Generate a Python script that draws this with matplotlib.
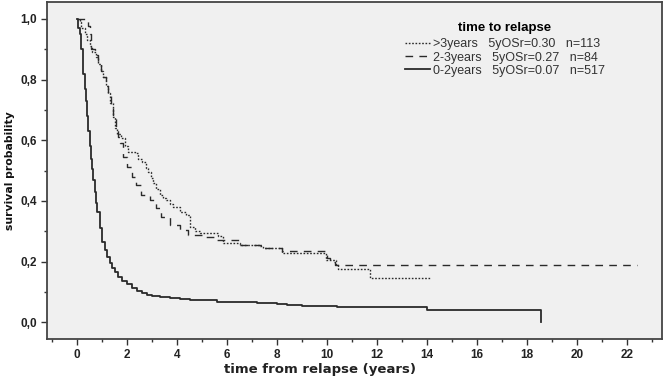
import matplotlib
matplotlib.use("Agg")
import matplotlib.pyplot as plt
from matplotlib.ticker import MultipleLocator

# ---- data ----
t_early = [0, 0.05, 0.1, 0.17, 0.24, 0.3, 0.35, 0.4, 0.45, 0.5, 0.55, 0.6, 0.65, 0.7, 0.75,
           0.8, 0.9, 1.0, 1.1, 1.2, 1.3, 1.4, 1.5, 1.65, 1.8, 2.0, 2.2, 2.4, 2.6, 2.8, 3.0,
           3.3, 3.7, 4.1, 4.5, 4.9, 5.6, 7.2, 8.0, 8.4, 9.0, 10.4, 14.0, 18.55]
s_early = [1.0, 0.97, 0.95, 0.9, 0.82, 0.77, 0.73, 0.68, 0.63, 0.58, 0.54, 0.505, 0.47, 0.43, 0.395,
           0.365, 0.31, 0.265, 0.24, 0.215, 0.197, 0.18, 0.166, 0.15, 0.137, 0.125, 0.113, 0.104, 0.097, 0.09, 0.086,
           0.082, 0.079, 0.077, 0.075, 0.0735, 0.068, 0.064, 0.060, 0.057, 0.054, 0.049, 0.041, 0.0]

t_mid = [0, 0.45, 0.5, 0.57, 0.7, 0.85, 0.95, 1.05, 1.15, 1.25, 1.35, 1.45, 1.55, 1.65, 1.71,
         1.84, 1.98, 2.18, 2.37, 2.57, 2.91, 3.17, 3.37, 3.71, 4.1, 4.44, 5.04, 5.6, 6.5, 7.4,
         8.2, 10.0, 10.1, 10.3, 22.4]
s_mid = [1.0, 0.976, 0.95, 0.90, 0.88, 0.85, 0.83, 0.81, 0.78, 0.75, 0.72, 0.68, 0.64, 0.61, 0.59,
         0.546, 0.513, 0.48, 0.453, 0.42, 0.403, 0.376, 0.346, 0.321, 0.304, 0.288, 0.282, 0.27, 0.255, 0.245,
         0.236, 0.211, 0.2, 0.189, 0.189]

t_late = [0, 0.1, 0.17, 0.3, 0.4, 0.5, 0.6, 0.75, 0.85, 0.95, 1.05, 1.15, 1.24, 1.32, 1.44,
          1.52, 1.6, 1.77, 1.9, 2.04, 2.3, 2.44, 2.6, 2.75, 2.84, 2.95, 3.04, 3.15, 3.31, 3.45,
          3.57, 3.7, 3.84, 4.1, 4.37, 4.5, 4.7, 4.9, 5.64, 5.84, 6.5, 7.3, 7.44, 8.2, 9.97,
          10.35, 10.45, 11.7, 14.1]
s_late = [1.0, 0.99, 0.97, 0.95, 0.93, 0.91, 0.89, 0.876, 0.85, 0.83, 0.81, 0.78, 0.755, 0.722, 0.678,
          0.64, 0.62, 0.607, 0.58, 0.563, 0.557, 0.54, 0.53, 0.51, 0.497, 0.475, 0.458, 0.44, 0.42, 0.41,
          0.403, 0.39, 0.381, 0.365, 0.354, 0.315, 0.30, 0.293, 0.285, 0.26, 0.255, 0.25, 0.244, 0.227, 0.205,
          0.189, 0.175, 0.147, 0.147]

labels = [">3years   5yOSr=0.30   n=113", "2-3years   5yOSr=0.27   n=84", "0-2years   5yOSr=0.07   n=517"]
legend_title = "time to relapse"
xlabel = "time from relapse (years)"
ylabel = "survival probability"
yt = [0, 0.2, 0.4, 0.6, 0.8, 1.0]
xt = list(range(0, 23, 2))

plt.rcParams["font.family"] = ["Liberation Sans", "DejaVu Sans"]

# ---- figure ----
fig = plt.figure(figsize=(6.63, 3.77), dpi=100)
ax = fig.add_axes([47/663, 38/377, 615/663, 337/377])
ax.set_facecolor("#f0f0f0")

c = "#2a2a2a"
ax.step(t_late, s_late, where="post", color=c, lw=1.0, linestyle=(0, (1.2, 1.2)), label=labels[0])
ax.step(t_mid, s_mid, where="post", color=c, lw=1.0, linestyle=(0, (5.5, 4.5)), label=labels[1])
ax.step(t_early, s_early, where="post", color=c, lw=1.3, linestyle="-", label=labels[2])

ax.set_xlim(-1.2, 23.4)
ax.set_ylim(-0.055, 1.056)
ax.xaxis.set_minor_locator(MultipleLocator(1))
ax.yaxis.set_minor_locator(MultipleLocator(0.1))
ax.set_yticks(yt)
ax.set_yticklabels([f"{v:.1f}".replace(".", ",") for v in yt],
                   fontsize=8.5, fontweight="bold", color="#222222")
ax.set_xticks(xt)
ax.set_xticklabels([str(v) for v in xt], fontsize=8.5, fontweight="bold", color="#222222")

for sp in ax.spines.values():
    sp.set_color("#444444")
    sp.set_linewidth(1.3)

ax.tick_params(axis="both", which="major", length=4, width=1, color="#333333", pad=3)
ax.tick_params(axis="both", which="minor", length=2.5, width=1, color="#333333")

ax.set_xlabel(xlabel, fontsize=9.5, fontweight="bold", family="DejaVu Sans", color="#222222")
ax.xaxis.set_label_coords(0.444, -0.072)
ax.set_ylabel(ylabel, fontsize=7.8, fontweight="bold", family="DejaVu Sans", color="#111111")
ax.yaxis.set_label_coords(-0.052, 0.5)

leg = ax.legend(loc="upper left", bbox_to_anchor=(0.568, 0.966), frameon=False,
                title=legend_title, prop={"family": "Liberation Sans", "size": 9},
                handlelength=2.0, handletextpad=0.2, labelspacing=0.1, borderpad=0.2)
leg.get_title().set_fontweight("bold")
leg.get_title().set_fontsize(9.5)
leg.get_title().set_fontfamily("Liberation Sans")
leg._legend_box.sep = 3
for txt in leg.get_texts():
    txt.set_color("#333333")

fig.savefig("out.png", dpi=100)
